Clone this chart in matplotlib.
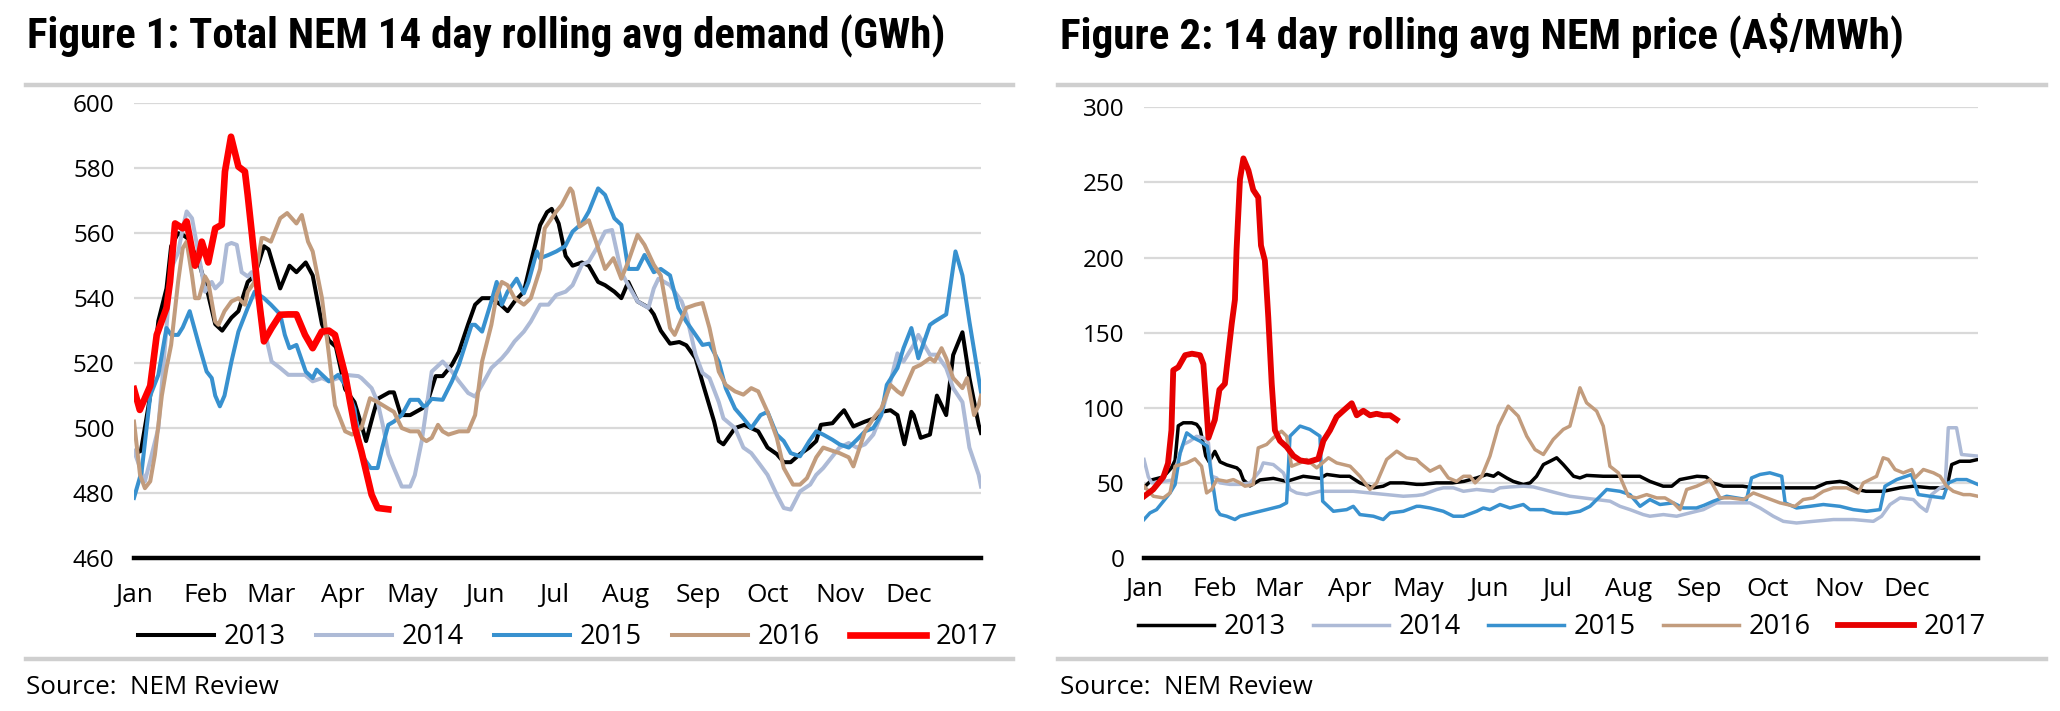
import matplotlib
matplotlib.use("Agg")
import matplotlib.pyplot as plt
from matplotlib.lines import Line2D
from matplotlib import font_manager

plt.rcParams['font.family'] = ['Open Sans', 'DejaVu Sans']

# x axis: day of year, labels at month starts
month_days = [0, 31, 59, 90, 120, 151, 181, 212, 243, 273, 304, 334]
month_names = ["Jan", "Feb", "Mar", "Apr", "May", "Jun",
               "Jul", "Aug", "Sep", "Oct", "Nov", "Dec"]
years = ["2013", "2014", "2015", "2016", "2017"]

# Figure 1: 14 day rolling avg demand (GWh), (day of year, value)
dem_2013 = [(0, 492), (3, 493), (7, 510), (10.5, 533), (14, 543), (16, 556), (19, 560), (21, 559.5),
            (23, 558.5), (28, 551), (32, 541), (35, 532), (38, 530), (42, 534), (45, 536), (49, 545),
            (52, 547), (56, 556), (58, 555), (63, 543), (67, 550), (70, 548), (74, 551), (77, 547),
            (81, 532), (84, 527), (87, 525), (91, 512), (95, 508), (98, 501), (100, 496), (103, 504),
            (105, 509), (110, 511), (112, 511), (115, 504), (119, 504), (124, 506), (126, 507),
            (130, 516), (133, 516), (137, 519.5), (140, 523.5), (144, 532), (147, 538), (150, 540),
            (154, 540), (158, 538), (161, 536), (164, 539), (168, 542), (171, 551), (175, 562.5),
            (178, 566.5), (180, 567.5), (183, 563), (186, 553), (189, 550), (193, 551), (196, 550),
            (200, 545), (203, 544), (207, 542), (210, 540), (213, 545), (217, 539), (222, 537),
            (224, 535), (227, 530), (231, 526), (235, 526.5), (238, 525.5), (242, 521.5), (245, 514),
            (250, 502), (252, 496), (254, 495), (259, 500), (263, 501), (266, 500), (269, 499),
            (273, 494), (277, 492), (280, 489.5), (283, 489.5), (287, 492), (291, 494), (294, 496),
            (296, 501), (301, 501.5), (304, 504), (306, 505.5), (308, 503), (310, 500.5), (315, 502),
            (319, 503), (322, 505), (326, 505.5), (329, 504), (332, 495), (335, 505), (336, 504),
            (339, 497), (343, 498), (346, 510), (350, 504), (353, 522.5), (357, 529.5), (360, 515.5),
            (364, 501), (365, 498.5)]
dem_2014 = [(0, 493), (4.7, 483.6), (7, 490), (10.5, 500), (14, 531), (16, 549), (19, 554), (21, 561.5),
            (22.7, 566.7), (25, 564.6), (28, 553), (30.6, 542), (33.5, 545), (35, 543), (37.8, 545),
            (40, 556.4), (42, 557), (44.3, 556.4), (46.4, 548), (49, 546.7), (50.7, 548), (53.6, 541),
            (56, 531), (59.3, 520.5), (63, 518.5), (66.5, 516.4), (70, 516.4), (73.7, 516.4),
            (77, 514.4), (81, 515.4), (84, 514.4), (88, 515.4), (91, 516.4), (96.7, 516), (98, 515.4),
            (102.4, 512.3), (105, 508), (107.5, 500), (109.6, 492), (112, 487.7), (115.4, 482),
            (119, 482), (121, 485.5), (124, 496), (126, 506), (128.3, 517.4), (133, 520.5),
            (137, 517.4), (140, 514.4), (144, 510.8), (147, 509.7), (150, 513.3), (154, 518.5),
            (158.5, 521.5), (161, 523.6), (164, 526.7), (168, 529.7), (171, 532.8), (175, 538),
            (178.6, 538), (182, 541), (186, 542), (189, 544), (193, 550.3), (196, 551.3),
            (199.4, 555.4), (203, 560.5), (206, 561), (210, 548), (213, 544), (217, 539),
            (221.7, 537), (224, 543), (226, 546), (231, 544), (236, 539), (238, 535), (242, 522.6),
            (245, 517), (248, 515.4), (252, 508), (254, 503), (259, 500), (262.6, 494), (266, 492.3),
            (269.8, 488.7), (273, 485.6), (277, 479.5), (280, 475.4), (283, 474.9), (287, 480.5),
            (291.4, 482.6), (294, 485.6), (297, 487.7), (301, 491.3), (304, 494), (308, 495.4),
            (311.5, 494), (315, 495), (318.6, 498), (322, 504), (326, 514.4), (329, 523),
            (331.6, 520.5), (336, 525.6), (338, 528.7), (343, 522.6), (346, 522.6), (350, 518.5),
            (353, 512.3), (357, 508), (360, 494), (364, 485.6), (365, 482)]
dem_2015 = [(0, 478.5), (3.3, 486.7), (7, 510), (10.5, 516.4), (14, 530.8), (16, 528.7), (19, 528.7),
            (21, 531), (24, 536), (28, 525.6), (31.3, 517.4), (33.5, 515.4), (35, 510), (37, 506.7),
            (39, 510), (42, 520.5), (45, 529.7), (49, 537), (52, 542), (56, 540), (59, 538), (63, 535),
            (65, 528.7), (67, 524.6), (70, 525.6), (74, 517.4), (77, 515.4), (78.7, 518), (84, 514.4),
            (88, 516.4), (91, 513.3), (95, 506), (98, 491.8), (102, 487.7), (105, 487.7), (107, 494),
            (109.6, 501), (112, 502), (115.4, 504), (119, 508.7), (122.6, 508.7), (124.7, 506.7),
            (126, 507), (128.3, 509), (133, 508.7), (137, 514.4), (140, 519.5), (145.5, 531.8),
            (147, 531.8), (150, 529.7), (154, 539), (156.3, 545), (158.5, 538), (161, 542),
            (164.9, 546), (168, 541.5), (170, 545), (173.6, 554.4), (175, 552.3), (178.6, 553.3),
            (182, 554.4), (185.8, 556), (189, 560.5), (193, 563), (196, 566.7), (200, 573.8),
            (203, 571.8), (207, 564.6), (210, 562.6), (213, 549), (217, 549), (220, 553.3),
            (224, 548), (227, 549), (231, 547), (234.6, 537), (238, 532.8), (242, 528.7),
            (245, 525.6), (248, 526), (252, 520.5), (255, 512.3), (259, 506), (262.6, 503),
            (266, 500), (270, 504), (273, 505), (277, 498), (280, 496), (283, 492.3), (287, 491.3),
            (291, 496), (294, 499), (297, 498), (301, 496.4), (304, 495), (308, 494), (311.5, 496.4),
            (315, 499), (318.6, 500), (322, 504), (324.4, 513.3), (329, 518.5), (331.6, 524.6),
            (335, 530.8), (338, 521.5), (343, 531.8), (345, 532.8), (350, 535), (354, 554.4),
            (357, 547), (360, 532.8), (364, 515.4), (365, 511)]
dem_2016 = [(0, 502), (2.6, 485.6), (4.7, 481.5), (7, 483.6), (9, 491.8), (12, 510), (14, 518.5),
            (16, 525.6), (19, 545), (21, 555.4), (22.7, 557.4), (25, 547), (26.3, 540), (28, 540),
            (30.6, 546.7), (32, 545), (35, 532.8), (36.4, 531.8), (39, 536), (42, 539), (45, 540),
            (47.8, 538), (49, 542), (52, 545), (55, 558.5), (56, 558.5), (59, 557.4), (63, 564.6),
            (66, 566.2), (70, 563), (72.3, 565.6), (75, 557.4), (77, 554.4), (81, 540), (84, 522.6),
            (86.6, 507), (91, 499), (94, 498), (98, 500), (99.6, 504), (101.7, 509.2), (105, 508),
            (109.6, 506), (112, 505), (115.4, 500), (119, 499), (122.6, 499), (124, 497), (126, 496),
            (128.3, 497), (131, 501), (133, 499), (135.5, 498), (140, 499), (144, 499), (147, 504),
            (150, 520.5), (154, 531.8), (156.3, 541), (158.5, 545), (161, 544), (164, 540),
            (168, 538), (171, 540), (175, 549), (177, 561.5), (182, 566.7), (184.3, 568.7),
            (188, 573.8), (189, 572.8), (192, 562), (196, 564), (200, 555.4), (203, 549),
            (206.6, 552.3), (210, 546), (213, 551.3), (217, 559.5), (220, 556.4), (224, 550.3),
            (227, 547), (231, 530.8), (233, 528.7), (238, 537), (242, 538), (245, 538.5),
            (248, 530.8), (252, 517.4), (255, 513.3), (259, 511.3), (262.6, 510.3), (266, 512.3),
            (269, 511.3), (273, 505), (277, 497), (280, 487.7), (284, 482.6), (287, 482.6),
            (290, 484.6), (294, 491), (297, 494), (301, 493), (304, 492.3), (308, 491), (310, 488.2),
            (315, 499), (318.6, 503), (322, 506), (326, 513.3), (329, 511.3), (331, 510.3),
            (336, 518.5), (339, 519.5), (343, 521.5), (345, 520.5), (348, 524.6), (350, 521.5),
            (353, 515.4), (357, 512.3), (359, 515.4), (362, 504), (364, 507), (365, 510)]
dem_2017 = [(0, 512), (2.5, 505.6), (7, 513), (9.8, 528.7), (14, 537), (15.5, 545), (17.7, 563),
            (21, 561.5), (22.7, 563.6), (26.3, 550), (28, 553), (29.2, 557.4), (32, 551), (35, 561.5),
            (37.8, 562.6), (39.2, 579), (41.8, 589.7), (45, 580.5), (47.8, 579), (49, 571.8),
            (50.7, 560.5), (53.6, 541), (56, 526.7), (59.3, 530.8), (63, 534.9), (66.5, 535),
            (70, 535), (73.7, 528.7), (77, 524.6), (80.9, 529.7), (84, 530), (86.6, 528.7),
            (91, 516.4), (95.2, 500), (98, 492.8), (102.4, 479.5), (105, 475.4), (109.6, 475)]

# Figure 2: 14 day rolling avg NEM price (A$/MWh), (day of year, value)
pr_2013 = [(0, 47), (3.4, 52), (8.5, 54), (12, 60), (13.6, 65), (15, 88), (17.2, 90), (20.9, 90),
           (23, 89), (24.5, 86), (26, 76), (27, 68), (28.5, 64), (31, 71), (33.3, 64), (36.2, 62),
           (40.6, 60), (42, 58), (43.5, 52), (46.4, 48), (50.8, 52), (56.6, 53), (62.4, 51),
           (69.7, 54.4), (77, 53), (80, 55.6), (85.8, 54.4), (90, 54.4), (94.5, 50), (100.4, 46.7),
           (104.7, 47.8), (107.7, 50), (113.5, 50), (119.3, 49), (122, 49), (128, 50), (135, 50),
           (140, 51), (145.6, 53.3), (150, 55.6), (153, 54.4), (155, 56.7), (158.7, 53.3),
           (161.6, 51), (166, 48.9), (169, 50), (171.8, 54.4), (174.8, 62.2), (177.7, 64.4),
           (180.6, 66.7), (183.5, 62.2), (188, 54.4), (190.8, 53.3), (193.7, 55), (201, 54.4),
           (207, 54.4), (212.6, 54.4), (217, 54.4), (221.4, 51), (227.2, 47.8), (231, 47.8),
           (234.5, 52.2), (242, 54.4), (246, 54), (249, 50), (253.5, 47.8), (262, 47.8),
           (266.7, 46.7), (280, 46.7), (287, 46.7), (293.7, 46.7), (298.7, 50), (304.6, 51),
           (307.5, 50), (312, 45.6), (316, 44.4), (323.6, 44.4), (331, 46.7), (336.7, 47.8),
           (344, 46.7), (351.3, 46.7), (353.5, 62.2), (357, 64.4), (361.5, 64.4), (365, 65.6)]
pr_2014 = [(0, 65.6), (1.9, 54), (3.4, 50), (8.5, 51), (12.8, 52), (15, 66), (17.2, 75.6), (20.1, 77.8),
           (23, 81), (26, 80), (28.2, 76.7), (29.6, 54.4), (31.8, 53.3), (33.3, 50), (37.6, 49),
           (42, 49), (46.4, 50), (50.8, 58), (52.2, 63.3), (56.6, 62.2), (61, 56.7), (63.9, 45.6),
           (66.8, 43.3), (71.2, 42.2), (77, 44.4), (84.3, 44.4), (91.6, 44.4), (98.9, 43.3),
           (106.2, 42.2), (113.5, 41.1), (119.3, 41.6), (122.2, 42.2), (128.1, 45.6), (131, 46.7),
           (135.4, 46.7), (139.8, 44.4), (145.6, 45.6), (152.9, 44.4), (155.8, 46.7), (160.2, 47.3),
           (166, 47.8), (170.4, 47.3), (174.8, 45.6), (180.6, 43.3), (186.4, 41.1), (192.3, 40),
           (198.1, 38.9), (204, 37.8), (208.3, 34.4), (212.7, 32.2), (218.5, 28.9), (221.4, 27.8),
           (227.3, 28.9), (233.1, 27.8), (238.9, 30), (244.8, 32.2), (250.6, 36.7), (257.9, 36.7),
           (265.2, 36.7), (269.6, 33.3), (275.4, 27.8), (279.8, 24.4), (285.6, 23.3), (292.9, 24.4),
           (301.7, 25.6), (310.4, 25.6), (319.2, 24.4), (322.8, 27.8), (326.5, 35.6), (330.9, 40),
           (336.7, 38.9), (339.6, 34.4), (342.5, 31.1), (344.7, 42.2), (348.4, 46.7), (350.6, 47.8),
           (352, 86.7), (355.6, 86.7), (357.8, 68.9), (365, 67.8)]
pr_2015 = [(0, 25.6), (2.6, 30), (5.5, 32.2), (8.5, 37.8), (11.4, 43.3), (13.6, 48.9), (15.8, 70),
           (18.7, 83.3), (21.6, 80), (24.5, 77.8), (27.7, 74.4), (29.6, 54.4), (31.8, 32.2),
           (33.3, 28.9), (36.2, 27.8), (39.8, 25.6), (42, 27.8), (47.8, 30), (53.7, 32.2),
           (59.5, 34.4), (62.4, 36.7), (63.9, 81.1), (68.3, 87.8), (72.6, 85.6), (77, 81.1),
           (78.2, 37.8), (82.9, 31.1), (88.7, 32.2), (91.6, 34.4), (94.5, 28.9), (100.4, 27.8),
           (104.7, 25.6), (107.7, 30), (113.5, 31.1), (119.3, 34.4), (120.8, 34.4), (125.2, 33.3),
           (131, 31.1), (135.4, 27.8), (139.8, 27.8), (145.6, 31.1), (148.5, 33.3), (151.4, 32.2),
           (155.8, 35.6), (160.2, 33.3), (166, 35.6), (168.9, 32.2), (174.8, 32.2), (179.1, 30),
           (185, 29.6), (190.8, 31.1), (195.2, 34.4), (199.6, 41.1), (202.5, 45.6), (208.3, 44.4),
           (212.7, 42.2), (217.1, 34.4), (221.4, 38.9), (225.8, 35.6), (231.6, 36.7), (236, 33.3),
           (241.8, 33.3), (245, 35), (249.2, 37.8), (255, 41.1), (263.7, 38.9), (265.9, 53.3),
           (269.6, 55.6), (273.9, 56.7), (279.1, 54.4), (280.6, 36.7), (285.6, 33.3), (291.5, 34.4),
           (297.3, 35.6), (304.6, 34.4), (310.4, 32.2), (316.3, 31.1), (322.1, 32.2), (324.3, 47.8),
           (329.4, 52.2), (335.9, 55.6), (338.9, 42.2), (344, 41.1), (349.8, 40), (352, 50),
           (355.6, 52.2), (360, 52.2), (365, 48.9)]
pr_2016 = [(0, 47.8), (4.1, 41.1), (8.5, 40), (11.4, 43.3), (13.6, 61.1), (18.7, 63.3), (22.3, 66),
           (25.2, 61.1), (27.4, 43.3), (29.6, 45.6), (31.8, 52.2), (36.2, 51), (39.1, 52.2), (42, 50),
           (44.2, 47.8), (47.8, 48.9), (50, 73.3), (53.7, 75.6), (56.6, 80), (60.2, 84.4),
           (62.4, 81.1), (64.6, 61.1), (68.3, 63.3), (71.2, 65.6), (75.6, 60), (80.7, 66.7),
           (84.3, 63.3), (90.2, 61.1), (94.5, 54.4), (98.9, 45.6), (101.8, 50), (106.2, 65.6),
           (110.6, 71.1), (114.9, 66.7), (119.3, 65.6), (120.8, 63.3), (125.2, 57.8), (129.5, 61.1),
           (133.2, 53.3), (136.8, 51), (139.8, 54.4), (142.7, 54.4), (144.9, 50), (147.8, 54.4),
           (151.4, 67.8), (155.1, 87.8), (159.4, 101.1), (163.8, 94.4), (167.5, 81.1), (171.1, 72.2),
           (174.8, 68.9), (179.1, 78.9), (183.5, 85.6), (186.4, 87.8), (190.8, 113.3), (193.7, 103.3),
           (198.1, 97.8), (201, 87.8), (203.9, 61.1), (207.6, 56.7), (212, 41.1), (215.6, 40),
           (220, 42.2), (224.4, 40), (228, 40), (231.7, 36.7), (234.6, 32.2), (237.5, 45.6),
           (241.9, 47.8), (245, 50), (247.7, 52.2), (252.1, 40), (256.5, 40), (262.3, 38.9),
           (266.7, 43.3), (272.5, 40), (278.3, 36.7), (284.9, 34.4), (288.5, 38.9), (292.9, 40),
           (297.3, 44.4), (301.7, 46.7), (307.5, 46.7), (312.6, 43.3), (314.8, 50), (320.6, 54.4),
           (323.5, 66.7), (325.7, 65.6), (328.7, 58.9), (332.3, 56.7), (336, 58.9), (337.4, 53.3),
           (341.1, 58.9), (345.5, 56.7), (348.4, 54.4), (351.3, 47.8), (354.2, 44.4), (358.6, 42.2),
           (361.5, 42.2), (365, 41.1)]
pr_2017 = [(0, 41), (4, 45.6), (8.5, 54), (10.5, 63), (12, 85), (12.8, 125), (15, 127), (18, 135),
           (21, 136), (24.5, 135), (26, 129), (27.1, 105), (28.2, 80), (31, 92), (33, 112), (35.4, 116),
           (36.9, 136), (38.4, 156), (39.8, 172), (40.5, 205), (42, 252), (43.5, 266), (45.7, 258),
           (47.8, 245), (50, 240), (51.2, 208), (52.9, 198), (54.4, 160), (55.9, 116), (57.3, 85),
           (59.5, 78), (62.4, 74), (65.4, 68), (68.3, 65), (72, 64), (76.3, 66), (78.5, 78),
           (81.4, 85), (84.3, 94), (87.2, 98), (90.9, 103), (93.1, 95), (96, 98), (98.9, 95),
           (101.8, 96), (104.7, 95), (107.7, 95), (110.6, 92)]

colors = {"2013": "#000000", "2014": "#adbad6", "2015": "#3891cf", "2016": "#c29c7d"}
W, H = 2060, 711

# a bold condensed face for the titles, if one is installed
bold_faces = {f.name for f in font_manager.fontManager.ttflist if f.weight in (700, "bold")}
title_font = next((n for n in ["Roboto Condensed", "PT Sans Narrow", "Fira Sans Condensed",
                               "Archivo Narrow", "Open Sans Condensed", "Asap Condensed"]
                   if n in bold_faces), None)
title_kw = {"family": title_font} if title_font else {"family": "DejaVu Sans", "fontstretch": "condensed"}


def fx(px):
    return px / W


def fy(py):
    return 1 - py / H


def fit_text(fig, x, y, s, width_px, size, **kw):
    # scale a text so it spans the given width in pixels
    t = fig.text(x, y, s, fontsize=size, **kw)
    r = fig.canvas.get_renderer()
    w = t.get_window_extent(r).width
    t.set_fontsize(size * width_px / w)
    return t


def draw_panel(ax, series, red, lw, red_lw, ylim, yticks):
    for year, data in zip(years, series):
        x, y = zip(*data)
        if year == "2017":
            ax.plot(x, y, color=red, lw=red_lw, label=year, solid_joinstyle="round", zorder=5)
        else:
            ax.plot(x, y, color=colors[year], lw=lw, label=year, solid_joinstyle="round")
    ax.set_xlim(0, 365)
    ax.set_ylim(*ylim)
    ax.set_yticks(yticks)
    ax.set_xticks(month_days)
    ax.set_xticklabels(month_names)
    ax.grid(axis="y", color="#d9d9d9", lw=1.6)
    ax.set_axisbelow(True)
    for s in ["top", "right", "left"]:
        ax.spines[s].set_visible(False)
    ax.spines["bottom"].set_color("black")
    ax.spines["bottom"].set_linewidth(3.2)
    ax.spines["bottom"].set_zorder(6)
    ax.tick_params(axis="both", length=0)
    ax.tick_params(axis="y", pad=14, labelsize=17.5)
    ax.tick_params(axis="x", labelsize=19)


fig = plt.figure(figsize=(W / 100, H / 100), dpi=100)

ax1 = fig.add_axes([fx(134), fy(558), fx(981 - 134), (558 - 103.3) / H])
draw_panel(ax1, [dem_2013, dem_2014, dem_2015, dem_2016, dem_2017], "#ff0000", 2.9, 4.8,
           (460, 600), range(460, 601, 20))
ax1.tick_params(axis="x", pad=18)

ax2 = fig.add_axes([fx(1144), fy(558), fx(1978 - 1144), (558 - 107.3) / H])
draw_panel(ax2, [pr_2013, pr_2014, pr_2015, pr_2016, pr_2017], "#e60000", 2.5, 4.2,
           (0, 300), range(0, 301, 50))
ax2.tick_params(axis="x", pad=14)

# titles
fit_text(fig, fx(27), fy(49), "Figure 1: Total NEM 14 day rolling avg demand (GWh)", 920, 25,
         fontweight="bold", va="baseline", ha="left", **title_kw)
fit_text(fig, fx(1060), fy(49), "Figure 2: 14 day rolling avg NEM price (A$/MWh)", 845, 25,
         fontweight="bold", va="baseline", ha="left", **title_kw)

# grey rules
for (x0, x1) in [(26, 1013), (1058, 2046)]:
    for yy in [85, 659]:
        fig.add_artist(Line2D([fx(x0), fx(x1)], [fy(yy), fy(yy)], color="#cfcfcf", lw=3.2))

# legends
for ax, ly, lx, csp in [(ax1, 637, 138, 1.13), (ax2, 627, 1138, 1.02)]:
    h, l = ax.get_legend_handles_labels()
    fig.legend(h, l, loc="center left", bbox_to_anchor=(fx(lx), fy(ly)), ncol=5, frameon=False,
               fontsize=19.5, handlelength=2.8, handletextpad=0.35, columnspacing=csp,
               borderpad=0, borderaxespad=0)

fit_text(fig, fx(26), fy(687), "Source:  NEM Review", 253, 16, va="center", ha="left")
fit_text(fig, fx(1060), fy(687), "Source:  NEM Review", 253, 16, va="center", ha="left")

fig.savefig("out.png", dpi=100)
